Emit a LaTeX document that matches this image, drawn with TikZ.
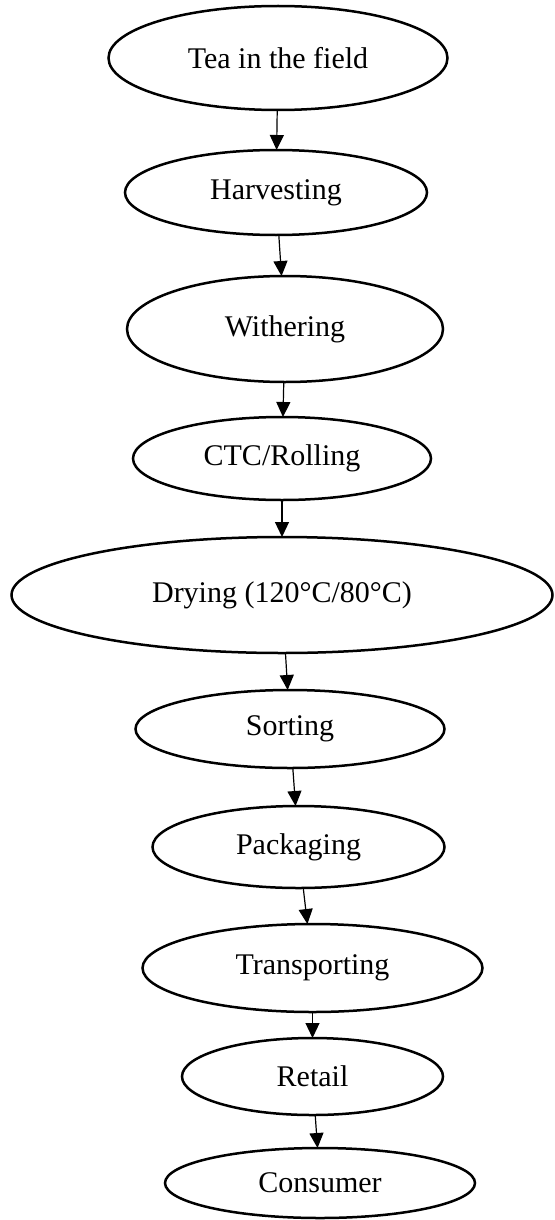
\documentclass[tikz,border=0pt]{standalone}
\usepackage{fontspec}
\setmainfont{Liberation Serif}
\usepackage{tikz}
\usetikzlibrary{shapes.geometric,positioning,arrows.meta}

\begin{document}
\begin{tikzpicture}[thick]
    % Styles
    \tikzstyle{stage} = [draw, ellipse, line width=1.25pt, inner sep=0pt, outer sep=0pt, align=center, font=\fontsize{15}{18}\selectfont]
    \tikzstyle{flow} = [-{Triangle[length=7.5pt, width=7pt]}, line width=0.6pt]

    \useasboundingbox (0,0) rectangle (277.5pt,-610pt);

    % Stages
    \node [stage, minimum width=169.5pt, minimum height=52pt] (Tea) at (139pt,-29pt) {Tea in the field};
    \node [stage, minimum width=151pt, minimum height=42.5pt, below=20pt of Tea, xshift=-1pt] (Harv) {Harvesting};
    \node [stage, minimum width=158pt, minimum height=53pt, below=20.5pt of Harv, xshift=4.5pt] (With) {Withering};
    \node [stage, minimum width=149pt, minimum height=41.5pt, below=17.5pt of With, xshift=-1.5pt] (Ctc) {CTC/Rolling};
    \node [stage, minimum width=270.5pt, minimum height=58pt, below=18.5pt of Ctc] (Dry) {Drying (120°C/80°C)};
    \node [stage, minimum width=154.5pt, minimum height=39pt, below=18.5pt of Dry, xshift=4pt] (Sort) {Sorting};
    \node [stage, minimum width=146pt, minimum height=41pt, below=19pt of Sort, xshift=4.25pt] (Pack) {Packaging};
    \node [stage, minimum width=170pt, minimum height=44pt, below=18pt of Pack, xshift=7pt] (Trans) {Transporting};
    \node [stage, minimum width=130.5pt, minimum height=38.5pt, below=13pt of Trans] (Ret) {Retail};
    \node [stage, minimum width=155pt, minimum height=35pt, below=16.5pt of Ret, xshift=3.75pt] (Cons) {Consumer};

    % Arrows
    \draw [flow] (Tea) -- (Harv);
    \draw [flow] (Harv) -- (With);
    \draw [flow] (With) -- (Ctc);
    \draw [flow] (Ctc) -- (Dry);
    \draw [flow] (Dry) -- (Sort);
    \draw [flow] (Sort) -- (Pack);
    \draw [flow] (Pack) -- (Trans);
    \draw [flow] (Trans) -- (Ret);
    \draw [flow] (Ret) -- (Cons);

\end{tikzpicture}
\end{document}
